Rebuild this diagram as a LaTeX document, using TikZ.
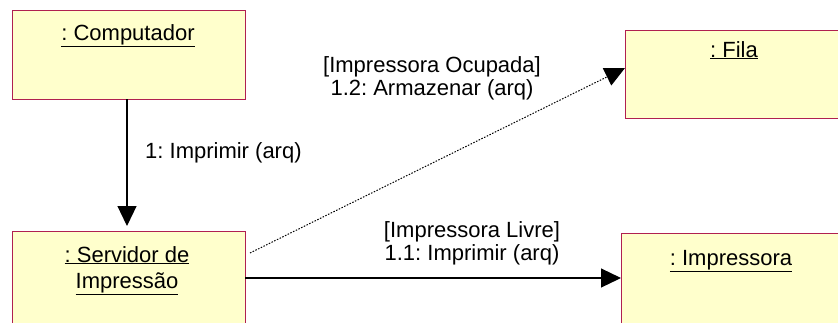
\documentclass[tikz,border=0pt]{standalone}
\usepackage{fontspec}
\setmainfont{Liberation Sans}
\usetikzlibrary{arrows.meta}
\definecolor{boxfill}{RGB}{255,255,204}
\definecolor{boxline}{RGB}{176,32,80}
\frenchspacing
\begin{document}
\begin{tikzpicture}[x=1pt,y=-1pt,
  obj/.style={draw=boxline,fill=boxfill,line width=1.2pt,anchor=north west,inner sep=0pt},
  txt/.style={font=\fontsize{22}{23}\selectfont,inner sep=0pt,align=center},
  msg/.style={line width=1.2pt,-{Triangle[width=19pt,length=20pt]}}]
\useasboundingbox (0,0) rectangle (838,322);
\node[obj,minimum width=233pt,minimum height=89pt] (comp) at (12,10) {};
\node[obj,minimum width=233pt,minimum height=110pt] (serv) at (12,231) {};
\node[obj,minimum width=230pt,minimum height=88pt] (fila) at (625,30) {};
\node[obj,minimum width=230pt,minimum height=110pt] (impr) at (621,233) {};
\node[txt,anchor=base] (tcomp) at (128,40) {\underline{: Computador}};
\node[txt,anchor=base] (tserv) at (127,288) {\underline{: Servidor de}\\[3pt]\underline{Impressão}};
\node[txt,anchor=base] (tfila) at (734,57) {\underline{: Fila}};
\node[txt,anchor=base] (timpr) at (731,265) {\underline{: Impressora}};
\coordinate (c1) at (127,99);
\coordinate (c2) at (127,226);
\draw[msg] (c1) -- (c2);
\coordinate (d1) at (250,253);
\coordinate (d2) at (625,68);
\draw[msg,line width=1pt,dash pattern=on 1.5pt off 1.5pt,-{Triangle[width=19pt,length=20pt,sep=0pt]}] (d1) -- (d2);
\coordinate (s1) at (245,278);
\coordinate (s2) at (621,278);
\draw[msg] (s1) -- (s2);
\node[txt,anchor=base west] (l1) at (145,158) {1: Imprimir (arq)};
\node[txt,anchor=base] (l2) at (432,95) {[Impressora Ocupada]\\1.2: Armazenar (arq)};
\node[txt,anchor=base] (l3) at (472,260) {[Impressora Livre]\\1.1: Imprimir (arq)};
\end{tikzpicture}
\end{document}
